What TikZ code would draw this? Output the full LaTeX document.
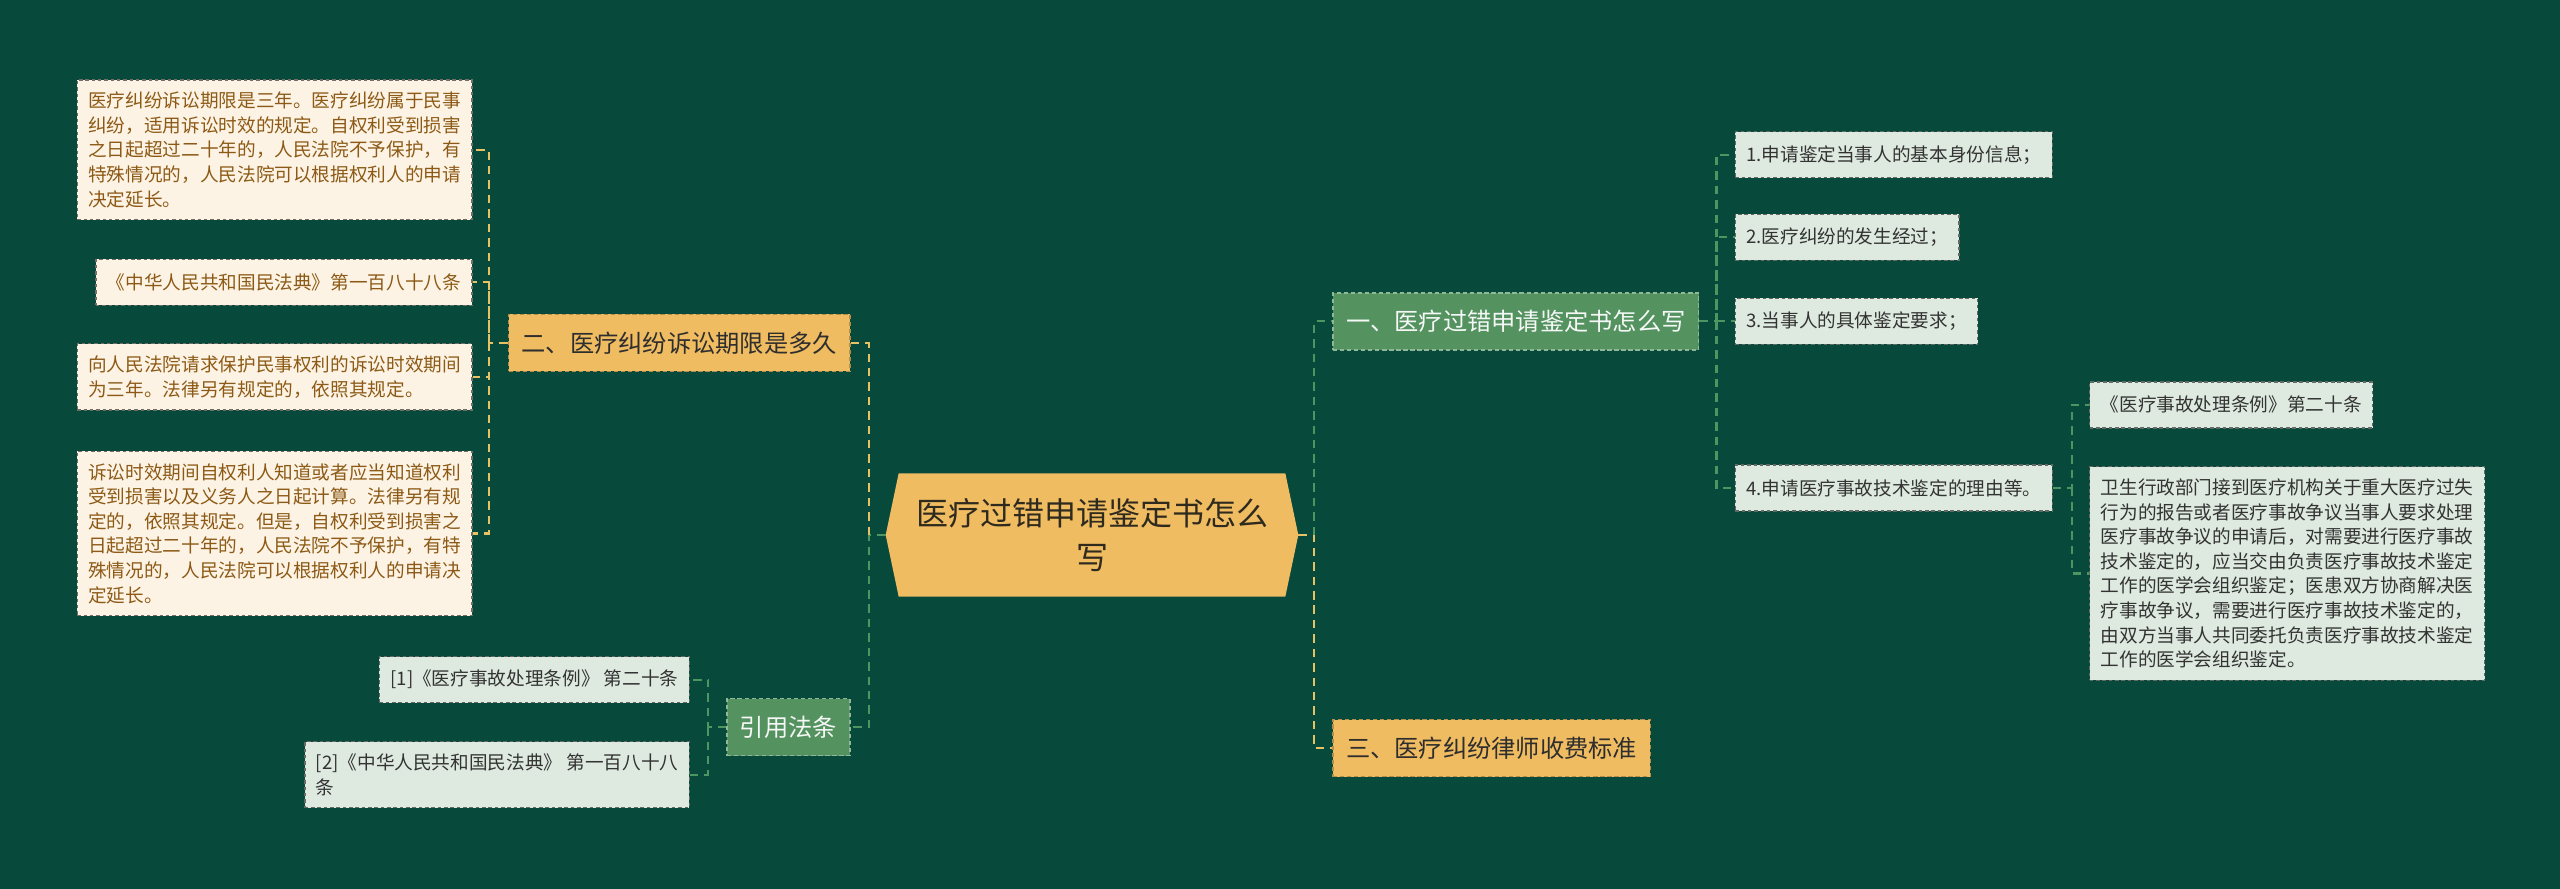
\documentclass[tikz,border=0pt]{standalone}
\usepackage{fontspec}
\setmainfont{Noto Sans CJK SC}
\usepackage{xcolor}
\usepackage{tikz}
\usetikzlibrary{positioning, backgrounds}

\definecolor{bgteal}{HTML}{07493A}
\definecolor{rootorange}{HTML}{F0BC62}
\definecolor{rootdark}{HTML}{2F2A1E}
\definecolor{branchgreen}{HTML}{549260}
\definecolor{leafmint}{HTML}{DEEAE0}
\definecolor{leafcream}{HTML}{FDF3E4}
\definecolor{creamtext}{HTML}{8C5A16}
\definecolor{lineyellow}{HTML}{E6C264}
\definecolor{linegreen}{HTML}{4F9562}

\begin{document}
\begin{tikzpicture}[
    x=0.01cm, y=-0.01cm,
    rootbox/.style={rectangle, minimum width=4.11cm, minimum height=1.22cm, align=center, text=rootdark, font=\fontsize{9.1}{12.5}\selectfont},
    topic/.style={rectangle, draw, minimum height=0.57cm, inner xsep=0.13cm, inner ysep=0pt, font=\fontsize{6.9}{8}\selectfont, dash pattern=on 1.2pt off 0.8pt, line width=0.4pt},
    topicgreen/.style={topic, fill=branchgreen, draw=branchgreen!65!white, text=white!94!branchgreen},
    topicorange/.style={topic, fill=rootorange, draw=rootorange!75!black, text=black!82},
    leaf/.style={rectangle, draw, align=left, minimum height=0.46cm, inner xsep=0.11cm, inner ysep=0.12cm, font=\fontsize{5.3}{7}\selectfont, dash pattern=on 1pt off 0.8pt, line width=0.4pt},
    mintleaf/.style={leaf, fill=leafmint, draw=leafmint!45!black, text=black!80},
    creamleaf/.style={leaf, fill=leafcream, draw=leafcream!45!black, text=creamtext},
    gline/.style={draw=linegreen, line width=0.6pt, dash pattern=on 2.4pt off 1.7pt},
    yline/.style={draw=lineyellow, line width=0.6pt, dash pattern=on 2.4pt off 1.7pt}
]
    \useasboundingbox (0,0) rectangle (2560,889);

    % central topic
    \node[rootbox] (root) at (1092,535) {医疗过错申请鉴定书怎么\\写};

    % main branches
    \node[topicgreen, right=0.34cm of root.east, yshift=2.135cm] (one) {一、医疗过错申请鉴定书怎么写};
    \node[topicorange, right=0.34cm of root.east, yshift=-2.13cm] (three) {三、医疗纠纷律师收费标准};
    \node[topicorange, left=0.35cm of root.west, yshift=1.92cm] (two) {二、医疗纠纷诉讼期限是多久};
    \node[topicgreen, left=0.35cm of root.west, yshift=-1.92cm] (cite) {引用法条};

    % items of branch one
    \node[mintleaf, right=0.35cm of one.east, yshift=1.665cm] (info) {1.申请鉴定当事人的基本身份信息；};
    \node[mintleaf, right=0.35cm of one.east, yshift=0.84cm] (course) {2.医疗纠纷的发生经过；};
    \node[mintleaf, right=0.35cm of one.east] (demand) {3.当事人的具体鉴定要求；};
    \node[mintleaf, right=0.35cm of one.east, yshift=-1.665cm] (reason) {4.申请医疗事故技术鉴定的理由等。};

    % details of item 4
    \node[mintleaf, right=0.36cm of reason.east, yshift=0.83cm] (rule) {《医疗事故处理条例》第二十条};
    \node[mintleaf, right=0.36cm of reason.east, yshift=-0.855cm] (duty) {卫生行政部门接到医疗机构关于重大医疗过失\\行为的报告或者医疗事故争议当事人要求处理\\医疗事故争议的申请后，对需要进行医疗事故\\技术鉴定的，应当交由负责医疗事故技术鉴定\\工作的医学会组织鉴定；医患双方协商解决医\\疗事故争议，需要进行医疗事故技术鉴定的，\\由双方当事人共同委托负责医疗事故技术鉴定\\工作的医学会组织鉴定。};

    % items of branch two
    \node[creamleaf, left=0.35cm of two.west, yshift=1.93cm] (term) {医疗纠纷诉讼期限是三年。医疗纠纷属于民事\\纠纷，适用诉讼时效的规定。自权利受到损害\\之日起超过二十年的，人民法院不予保护，有\\特殊情况的，人民法院可以根据权利人的申请\\决定延长。};
    \node[creamleaf, left=0.35cm of two.west, yshift=0.605cm] (code) {《中华人民共和国民法典》第一百八十八条};
    \node[creamleaf, left=0.35cm of two.west, yshift=-0.34cm] (period) {向人民法院请求保护民事权利的诉讼时效期间\\为三年。法律另有规定的，依照其规定。};
    \node[creamleaf, left=0.35cm of two.west, yshift=-1.905cm] (start) {诉讼时效期间自权利人知道或者应当知道权利\\受到损害以及义务人之日起计算。法律另有规\\定的，依照其规定。但是，自权利受到损害之\\日起超过二十年的，人民法院不予保护，有特\\殊情况的，人民法院可以根据权利人的申请决\\定延长。};

    % references
    \node[mintleaf, left=0.36cm of cite.west, yshift=0.475cm] (refone) {[1]《医疗事故处理条例》 第二十条};
    \node[mintleaf, left=0.36cm of cite.west, yshift=-0.475cm] (reftwo) {[2]《中华人民共和国民法典》 第一百八十八\\条};

    % hubs
    \coordinate[right=0.16cm of root.east] (rhub);
    \coordinate[left=0.17cm of root.west] (lhub);
    \coordinate[right=0.17cm of one.east] (onehub);
    \coordinate[right=0.19cm of reason.east] (reasonhub);
    \coordinate[left=0.19cm of two.west] (twohub);
    \coordinate[left=0.18cm of cite.west] (citehub);

    % connectors
    \draw[yline] (root.east) -- (rhub) |- (three.west);
    \draw[gline] (rhub) |- (one.west);
    \draw[gline] (root.west) -- (lhub) |- (cite.east);
    \draw[yline] (lhub) |- (two.east);

    \draw[gline] (one.east) -- (onehub) |- (info.west);
    \draw[gline] (onehub) |- (course.west);
    \draw[gline] (onehub) |- (demand.west);
    \draw[gline] (onehub) |- (reason.west);

    \draw[gline] (reason.east) -- (reasonhub) |- (rule.west);
    \draw[gline] (reasonhub) |- (duty.west);

    \draw[yline] (two.west) -- (twohub) |- (term.east);
    \draw[yline] (twohub) |- (code.east);
    \draw[yline] (twohub) |- (period.east);
    \draw[yline] (twohub) |- (start.east);

    \draw[gline] (cite.west) -- (citehub) |- (refone.east);
    \draw[gline] (citehub) |- (reftwo.east);

    % background and root shape
    \begin{scope}[on background layer]
        \fill[bgteal] (0,0) rectangle (2560,889);
        \fill[rootorange] (root.west) -- ([xshift=0.13cm]root.north west) -- ([xshift=-0.13cm]root.north east) -- (root.east) -- ([xshift=-0.13cm]root.south east) -- ([xshift=0.13cm]root.south west) -- cycle;
    \end{scope}
\end{tikzpicture}
\end{document}
